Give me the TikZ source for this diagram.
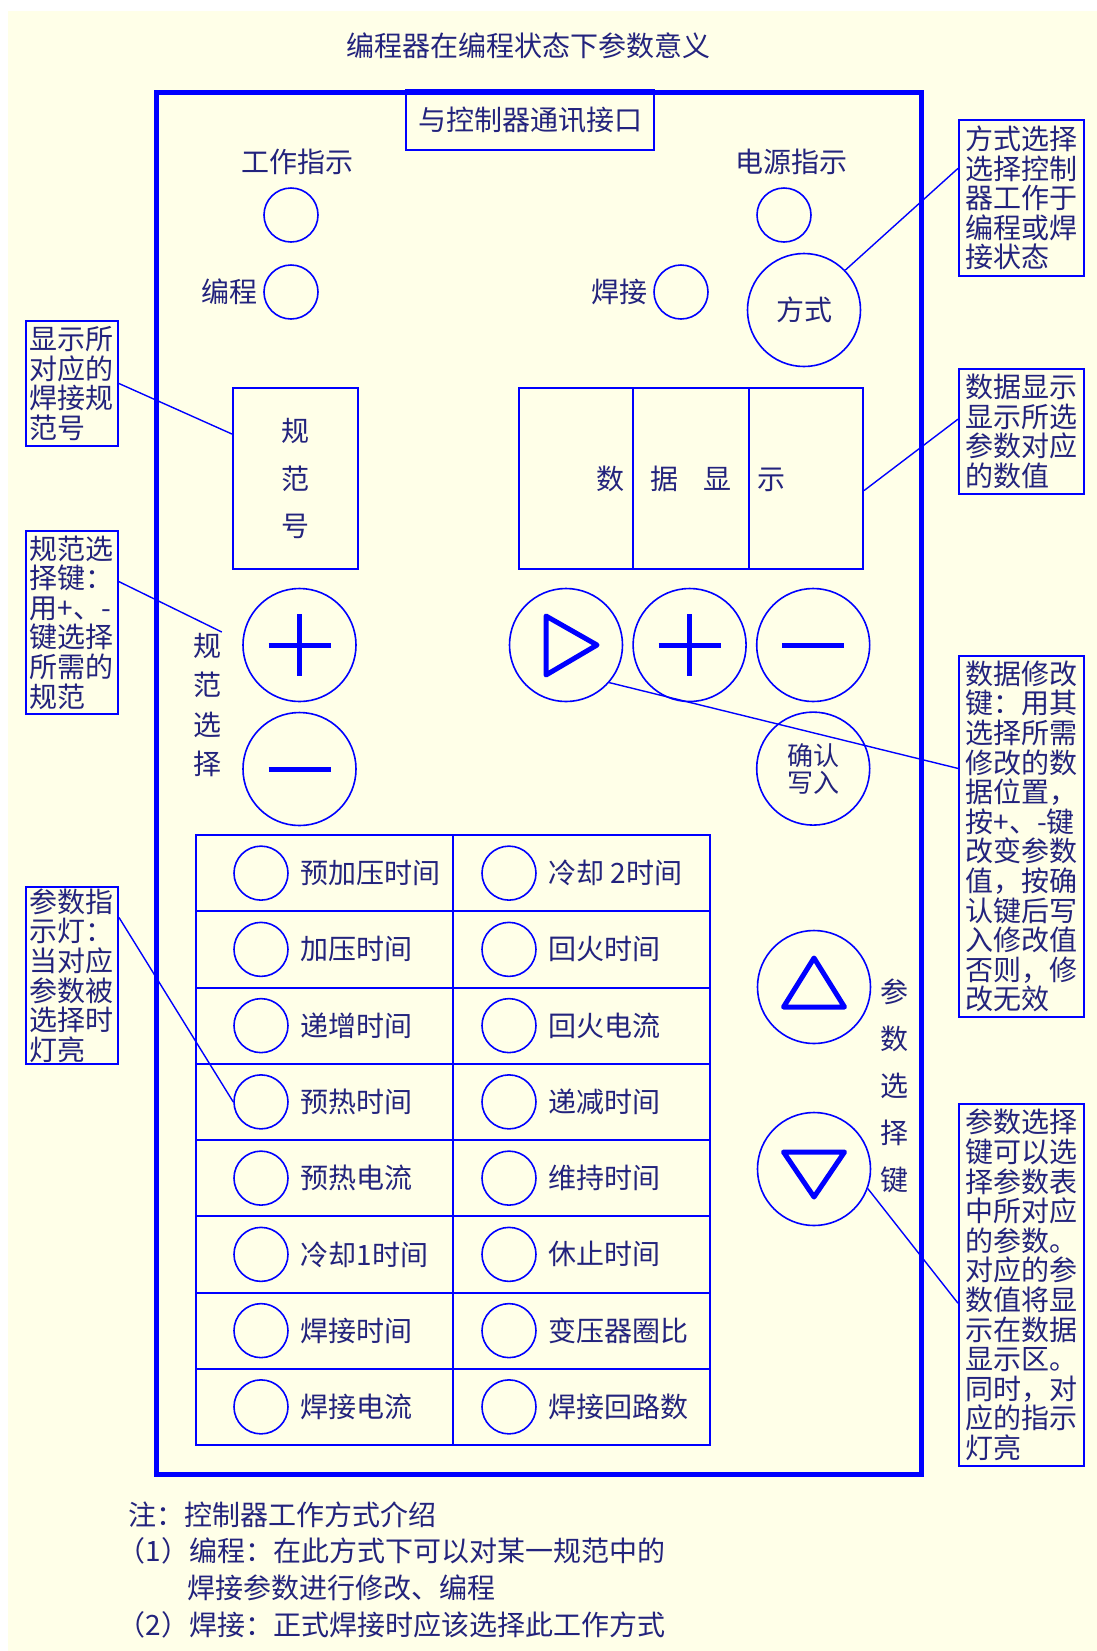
\documentclass[tikz,border=0pt]{standalone}
\usepackage{fontspec}
\setmainfont{Noto Sans CJK SC}
\usepackage{xcolor}
\usetikzlibrary{positioning, calc}
\definecolor{ink}{RGB}{35,35,125}
\definecolor{panel}{RGB}{0,0,255}
\definecolor{paper}{RGB}{255,255,232}

\begin{document}
\begin{tikzpicture}[x=0.5pt, y=-0.5pt, thick,
    every node/.style={text=ink, font=\fontsize{14pt}{15pt}\selectfont, inner sep=0pt},
    lamp/.style={draw=panel, line width=0.8pt, circle, minimum size=27pt},
    key/.style={draw=panel, line width=0.8pt, circle, minimum size=56.5pt},
    frame/.style={draw=panel, line width=1pt},
    note/.style={draw=panel, line width=1pt, anchor=north west, align=left, text width=56pt, inner xsep=3.25pt, font=\fontsize{14pt}{14.8pt}\selectfont},
    sidenote/.style={note, text width=42pt, inner xsep=2pt},
    sym/.style={draw=panel, line width=2.5pt, line join=round},
    link/.style={draw=panel, line width=0.7pt}]
    \useasboundingbox (0,0) rectangle (1097,1651);
    \fill[paper] (8,11) rectangle (1097,1651);

    % Tiêu đề và khung chính
    \node (title) at (528,46) {编程器在编程状态下参数意义};
    \draw[panel, line width=2.5pt] (156,92) rectangle (921,1474);
    \node[frame, minimum width=124pt, minimum height=30pt] (port) at (530,120) {与控制器通讯接口};

    % Đèn chỉ thị và phím chọn chế độ
    \node (worktxt) at (297,162) {工作指示};
    \node[lamp] (work) at (291,215) {};
    \node[lamp] (prog) at (291,292) {};
    \node[left=2.5pt of prog] (progtxt) {编程};
    \node (powertxt) at (791,162) {电源指示};
    \node[lamp] (power) at (784,215) {};
    \node[lamp] (weld) at (681,292) {};
    \node[left=2.5pt of weld] (weldtxt) {焊接};
    \node[key] (mode) at (804,310) {方式};

    % Ô số quy phạm và ô hiển thị dữ liệu
    \node[frame, minimum width=62.5pt, minimum height=90.5pt, align=center, font=\fontsize{14pt}{23.6pt}\selectfont] (spec) at (295.5,478.5) {规\\范\\号};
    \node[frame, minimum width=172pt, minimum height=90.5pt] (disp) at (691,478.5) {数\hspace{12.7pt}据\hspace{12.7pt}显\hspace{12.7pt}示};
    \draw[frame] ($(disp.north west)!1/3!(disp.north east)$) -- ($(disp.south west)!1/3!(disp.south east)$);
    \draw[frame] ($(disp.north west)!2/3!(disp.north east)$) -- ($(disp.south west)!2/3!(disp.south east)$);

    % Phím chọn quy phạm
    \node[key] (splus) at (299.5,645) {};
    \node[key] (sminus) at (299.5,769) {};
    \draw[sym] ([xshift=-15.5pt]splus.center) -- ([xshift=15.5pt]splus.center);
    \draw[sym] ([yshift=15.5pt]splus.center) -- ([yshift=-15.5pt]splus.center);
    \draw[sym] ([xshift=-15.5pt]sminus.center) -- ([xshift=15.5pt]sminus.center);
    \node[align=center, font=\fontsize{14pt}{19.8pt}\selectfont] (spectxt) at (207,705) {规\\范\\选\\择};

    % Phím sửa dữ liệu
    \node[key] (next) at (566,645) {};
    \node[key, right=4.5pt of next] (dplus) {};
    \node[key, right=4.5pt of dplus] (dminus) {};
    \node[key, below=4.5pt of dminus, align=center, font=\fontsize{13pt}{13.5pt}\selectfont] (ok) {确认\\写入};
    \draw[sym] ($(next)+(-20,-29)$) -- ++(0,59) -- ++(51,-30) -- cycle;
    \draw[sym] ([xshift=-15.5pt]dplus.center) -- ([xshift=15.5pt]dplus.center);
    \draw[sym] ([yshift=15.5pt]dplus.center) -- ([yshift=-15.5pt]dplus.center);
    \draw[sym] ([xshift=-15.5pt]dminus.center) -- ([xshift=15.5pt]dminus.center);

    % Phím chọn tham số
    \node[key] (up) at (814,987) {};
    \node[key] (down) at (814,1169) {};
    \draw[sym] ($(up)+(0,-29)$) -- ($(up)+(30.5,20)$) -- ($(up)+(-30.5,20)$) -- cycle;
    \draw[sym] ($(down)+(0,28)$) -- ($(down)+(30.5,-17)$) -- ($(down)+(-30.5,-17)$) -- cycle;
    \node[align=center, font=\fontsize{14pt}{23.5pt}\selectfont] (keytxt) at (894,1086) {参\\数\\选\\择\\键};

    % Bảng tham số (8 hàng, 2 cột)
    \draw[frame] (196,835) rectangle (710,1445);
    \draw[frame] (453,835) -- (453,1445);
    \foreach \k in {1,...,7}
        \draw[frame] (196,{835+\k*76.25}) -- (710,{835+\k*76.25});
    \foreach \lname/\rname [count=\i] in {预加压时间/冷却 2时间, 加压时间/回火时间, 递增时间/回火电流, 预热时间/递减时间, 预热电流/维持时间, 冷却1时间/休止时间, 焊接时间/变压器圈比, 焊接电流/焊接回路数} {
        \node[lamp] (l\i) at (261,{835+(\i-0.5)*76.25}) {};
        \node[right=5.5pt of l\i] (lt\i) {\lname};
        \node[lamp] (r\i) at (509,{835+(\i-0.5)*76.25}) {};
        \node[right=5.5pt of r\i] (rt\i) {\rname};
    }

    % Chú thích hai bên
    \node[note, minimum height=78pt] (modenote) at (958,119) {方式选择\\选择控制\\器工作于\\编程或焊\\接状态};
    \node[note, minimum height=62.5pt] (datanote) at (958,368) {数据显示\\显示所选\\参数对应\\的数值};
    \node[note, minimum height=180.5pt] (editnote) at (958,655) {数据修改\\键：用其\\选择所需\\修改的数\\据位置，\\按+、-键\\改变参数\\值，按确\\认键后写\\入修改值\\否则，修\\改无效};
    \node[note, minimum height=181pt] (paramnote) at (958,1103) {参数选择\\键可以选\\择参数表\\中所对应\\的参数。\\对应的参\\数值将显\\示在数据\\显示区。\\同时，对\\应的指示\\灯亮};
    \node[sidenote, minimum height=62.5pt] (specnote) at (25,320) {显示所\\对应的\\焊接规\\范号};
    \node[sidenote, minimum height=91.5pt] (selnote) at (25,530) {规范选\\择键：\\用+、-\\键选择\\所需的\\规范};
    \node[sidenote, minimum height=88.5pt] (lampnote) at (25,886) {参数指\\示灯：\\当对应\\参数被\\选择时\\灯亮};

    % Đường dẫn chú thích
    \draw[link] (mode.44) -- (modenote.155);
    \draw[link] (specnote.east) -- (spec.145);
    \draw[link] (selnote.41) -- (spectxt.north east);
    \draw[link] (lampnote.51) -- (l4.west);
    \draw[link] (disp.-4) -- (datanote.169);
    \draw[link] (next.-41) -- (editnote.133);
    \draw[link] (down.-20) -- (paramnote.196);

    % Ghi chú phía dưới
    \node[anchor=west] (notehead) at (128,1515) {注：控制器工作方式介绍};
    \node[anchor=west] (noteone) at (117,1551) {（1）编程：在此方式下可以对某一规范中的};
    \node[anchor=west] (noteonecont) at (187,1588) {焊接参数进行修改、编程};
    \node[anchor=west] (notetwo) at (117,1625) {（2）焊接：正式焊接时应该选择此工作方式};
\end{tikzpicture}
\end{document}
